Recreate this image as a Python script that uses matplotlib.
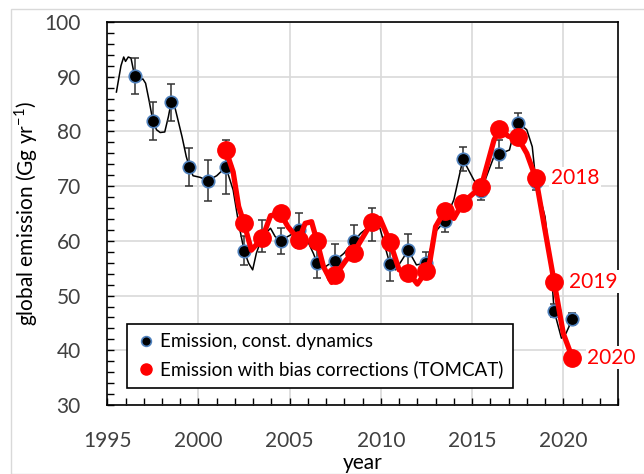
import numpy as np
import matplotlib.pyplot as plt
from matplotlib.lines import Line2D
from matplotlib.patches import Rectangle
from matplotlib.ticker import MultipleLocator

plt.rcParams['font.family'] = ['Lato', 'DejaVu Sans']

# annual estimates (mid-year)
yr_const = np.arange(1996, 2021) + 0.5
em_const = [90.1, 81.9, 85.3, 73.5, 71.0, 73.5, 58.2, 60.9, 60.0, 61.9, 56.0, 56.4,
            59.9, 63.0, 55.8, 58.3, 56.0, 63.6, 74.9, 69.2, 75.9, 81.6, 70.8, 47.2, 45.7]
err_const = [3.3, 3.5, 3.4, 3.4, 3.8, 5.0, 2.7, 3.0, 2.4, 3.2, 2.8, 3.0,
             3.0, 3.0, 3.2, 3.0, 2.0, 2.0, 2.2, 1.8, 2.5, 1.7, 1.5, 1.2, 1.1]

yr_bias = np.arange(2001, 2021) + 0.5
em_bias = [76.6, 63.2, 60.5, 65.0, 60.2, 59.9, 53.7, 57.8, 63.4, 59.8,
           54.2, 54.5, 65.5, 67.0, 69.9, 80.4, 78.9, 71.4, 52.5, 38.6]

# sub-annual curves
t_const_line = [1995.5, 1995.75, 1995.9, 1996.0, 1996.15, 1996.3, 1996.5, 1996.8, 1996.95,
                1997.1, 1997.3, 1997.5, 1997.7, 1997.9, 1998.15, 1998.35, 1998.5, 1998.7,
                1999.1, 1999.33, 1999.5, 1999.7, 2000.1, 2000.5, 2001.0, 2001.5, 2001.9,
                2002.2, 2002.5, 2002.75, 2002.97, 2003.17, 2003.5, 2003.95, 2004.2, 2004.5,
                2004.9, 2005.5, 2005.95, 2006.3, 2006.5, 2006.85, 2007.1, 2007.5, 2007.97,
                2008.5, 2008.9, 2009.5, 2009.95, 2010.5, 2010.8, 2011.1, 2011.5, 2011.95,
                2012.5, 2013.0, 2013.5, 2014.0, 2014.5, 2015.1, 2015.5, 2016.2, 2016.5,
                2017.05, 2017.3, 2017.5, 2018.0, 2018.3, 2018.5, 2019.0, 2019.35, 2019.5,
                2019.9, 2020.15, 2020.5]
v_const_line = [87.2, 92.0, 93.6, 92.8, 93.6, 93.4, 90.1, 89.4, 89.6,
                88.8, 85.5, 81.9, 80.3, 79.8, 79.9, 82.7, 85.3, 84.5,
                79.0, 75.4, 73.5, 71.9, 71.6, 71.0, 71.9, 73.5, 69.3,
                63.2, 58.2, 55.9, 54.7, 57.7, 60.8, 62.3, 60.8, 60.0,
                60.8, 61.9, 60.2, 57.7, 56.0, 55.0, 55.6, 56.4, 57.7,
                59.9, 61.4, 63.0, 62.3, 55.7, 54.7, 56.2, 58.3, 55.6,
                56.0, 61.7, 63.6, 67.5, 74.9, 71.1, 69.2, 75.4, 75.9,
                76.6, 80.0, 81.6, 80.3, 77.2, 70.8, 64.4, 54.1, 47.2,
                42.2, 43.1, 45.7]

t_bias_line = [2001.5, 2001.9, 2002.2, 2002.5, 2002.9, 2003.5, 2003.95, 2004.5, 2004.9,
               2005.5, 2005.85, 2006.2, 2006.5, 2006.85, 2007.3, 2007.5, 2008.1, 2008.5,
               2009.5, 2009.95, 2010.5, 2011.0, 2011.5, 2012.0, 2012.5, 2012.7, 2013.0,
               2013.5, 2014.0, 2014.5, 2015.5, 2016.2, 2016.5, 2017.0, 2017.5, 2018.0,
               2018.5, 2019.5, 2020.0, 2020.5]
v_bias_line = [76.6, 72.6, 66.3, 63.2, 58.3, 60.5, 64.6, 65.0, 62.6,
               60.2, 63.2, 63.5, 59.9, 55.3, 52.4, 53.7, 56.5, 57.8,
               63.4, 64.1, 59.8, 54.7, 54.2, 52.1, 54.5, 56.5, 62.6,
               65.5, 64.1, 67.0, 69.9, 78.4, 80.4, 79.1, 78.9, 76.0,
               71.4, 52.5, 43.1, 38.6]

labelled_years = ['2018', '2019', '2020']

fig = plt.figure(figsize=(6.44, 4.74), dpi=100)
ax = fig.add_axes([0.1666, 0.1456, 0.7930, 0.8080])

fig.patches.append(Rectangle((11 / 644, 0.0), 1.0, 1 - 9 / 474, transform=fig.transFigure,
                             fill=False, edgecolor='#d9d9d9', linewidth=1))

blue = '#4f81bd'
ax.plot(t_const_line, v_const_line, color='black', lw=1.1, zorder=2)
ax.errorbar(yr_const, em_const, yerr=err_const, fmt='none', ecolor='#333333',
            elinewidth=1.1, capsize=3, capthick=1.1, zorder=2)
ax.plot(yr_const, em_const, 'o', color='black', mec=blue, mew=1.2, ms=9, zorder=3)
ax.plot(t_bias_line, v_bias_line, color='#ff0000', lw=3.8, solid_joinstyle='round', zorder=4)
ax.plot(yr_bias, em_bias, 'o', color='#ff0000', ms=12.5, zorder=5)

for lab in labelled_years:
    i = list(yr_bias).index(int(lab) + 0.5)
    ax.annotate(lab, (yr_bias[i], em_bias[i]), xytext=(15, 0), textcoords='offset pixels',
                color='#ff0000', fontsize=15, va='center', ha='left',
                bbox=dict(facecolor='white', edgecolor='none', pad=1), zorder=6)

ax.set_xlim(1995, 2023)
ax.set_ylim(30, 100)
ax.xaxis.set_major_locator(MultipleLocator(5))
ax.xaxis.set_minor_locator(MultipleLocator(1))
ax.yaxis.set_major_locator(MultipleLocator(10))
ax.yaxis.set_minor_locator(MultipleLocator(2))
ax.tick_params(which='both', direction='in', length=5, width=1, color='black',
               labelsize=15, labelcolor='#404040')
ax.tick_params(axis='x', which='both', pad=19)
ax.tick_params(axis='y', which='both', pad=19)
ax.grid(True, which='major', color='#d9d9d9', lw=1.2)
ax.set_axisbelow(True)
for s in ax.spines.values():
    s.set_linewidth(1.2)
    s.set_color('black')

ax.set_xlabel('year', fontsize=15, labelpad=1)
ax.set_ylabel(r'global emission (Gg yr$^{\mathregular{-1}}$)', fontsize=15, labelpad=3)

handles = [Line2D([], [], ls='none', marker='o', color='black', mec=blue, mew=1.2, ms=7),
           Line2D([], [], ls='none', marker='o', color='#ff0000', ms=8)]
leg = ax.legend(handles, ['Emission, const. dynamics', 'Emission with bias corrections (TOMCAT)'],
                loc='lower left', bbox_to_anchor=(0.038, 0.045), borderaxespad=0,
                fontsize=13.5, fancybox=False, framealpha=1, edgecolor='black',
                handletextpad=0.2, handlelength=1.1, borderpad=0.5, labelspacing=0.55)
leg.get_frame().set_linewidth(1.2)
leg.set_zorder(7)

fig.savefig('out.png', dpi=100)
